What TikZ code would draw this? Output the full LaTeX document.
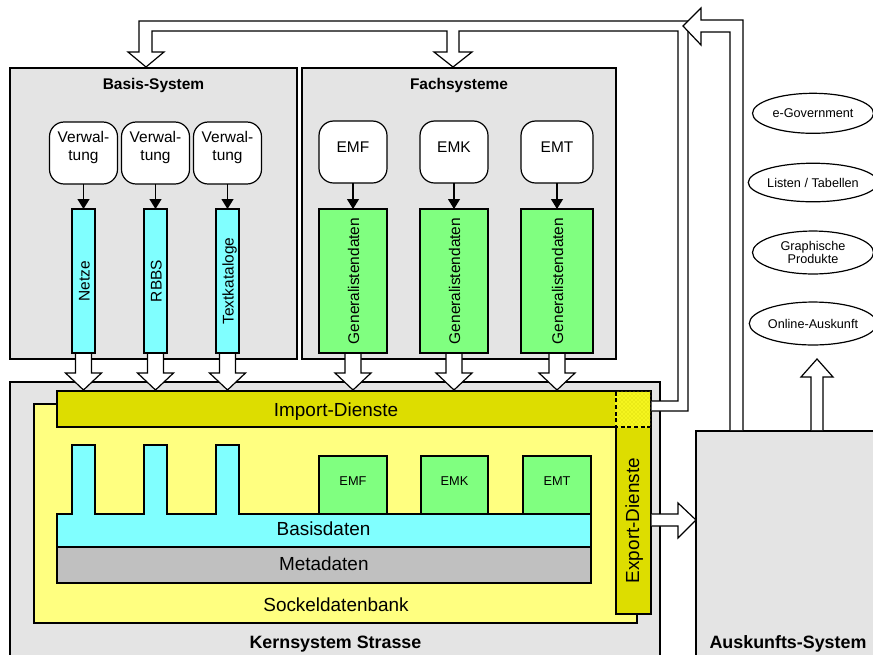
\documentclass[tikz,border=0pt]{standalone}
\usepackage{fontspec}
\setmainfont{Liberation Sans}
\usetikzlibrary{fit,shapes.geometric,arrows.meta,calc,patterns}
\definecolor{panelgray}{RGB}{228,228,228}
\definecolor{basecyan}{RGB}{128,255,255}
\definecolor{datagreen}{RGB}{128,255,128}
\definecolor{socketyellow}{RGB}{255,255,128}
\definecolor{serviceyellow}{RGB}{221,221,0}
\definecolor{metagray}{RGB}{192,192,192}
\definecolor{overlapyellow}{RGB}{245,245,30}
\definecolor{overlapdots}{RGB}{205,205,0}
\begin{document}
\begin{tikzpicture}[x=0.75pt,y=-0.75pt,line width=0.9pt,
  area/.style={draw,inner sep=0pt,outer sep=0pt,fit={#1}},
  srcbox/.style={area={#1},rounded corners=11pt,fill=white,align=center,
    font=\fontsize{11.6}{13.5}\selectfont},
  reg/.style={font=\fontsize{11.6}{13.5}\selectfont,inner sep=0pt},
  large/.style={font=\fontsize{14.2}{17}\selectfont,inner sep=0pt},
  heading/.style={font=\bfseries\fontsize{11.6}{14}\selectfont,inner sep=0pt},
  caption/.style={font=\bfseries\fontsize{13.4}{16}\selectfont,inner sep=0pt},
  smalltext/.style={font=\fontsize{9.6}{11}\selectfont,align=center},
  product/.style={ellipse,draw,fill=white,inner sep=0pt,minimum width=90.75pt,
    font=\fontsize{9.5}{11}\selectfont,align=center},
  flow/.style={-{Triangle[length=7.5pt,width=9pt]}},
  blockarrow/.style={draw,fill=white,line join=miter},
  dashline/.style={line width=1.4pt,dash pattern=on 3pt off 2pt}]
\useasboundingbox (0,0) rectangle (873,654);

% ---------- outer panels ----------
\node[area={(10,68) (297,359)},fill=panelgray] (basis) {};
\node[heading,anchor=base] (basistitle) at (153.5,89) {Basis-System};
\node[area={(302,68) (616,359)},fill=panelgray] (fach) {};
\node[heading,anchor=base] (fachtitle) at (459,89) {Fachsysteme};
\node[area={(10,382) (660,690)},fill=panelgray] (kern) {};
\node[caption,anchor=base] (kerntitle) at (335.5,648) {Kernsystem Strasse};
\node[area={(696,431) (890,690)},fill=panelgray] (ausk) {};
\node[caption,anchor=base] (ausktitle) at (788,648) {Auskunfts-System};

% ---------- Basis-System ----------
\node[srcbox={(49.5,122) (117.5,184)}] (v1) {Verwal-\\tung};
\node[srcbox={(121.5,122) (189.5,184)}] (v2) {Verwal-\\tung};
\node[srcbox={(193.5,122) (261.5,184)}] (v3) {Verwal-\\tung};
\node[area={(72,209) (95,353)},fill=basecyan] (netze) {};
\node[area={(144,209) (167,353)},fill=basecyan] (rbbs) {};
\node[area={(216,209) (239,353)},fill=basecyan] (texte) {};
\node[reg,rotate=90,anchor=base] (netzetext) at ($(netze.center)+(6,0)$) {Netze};
\node[reg,rotate=90,anchor=base] (rbbstext) at ($(rbbs.center)+(6,0)$) {RBBS};
\node[reg,rotate=90,anchor=base] (textetext) at ($(texte.center)+(6,0)$) {Textkataloge};
\draw[flow] (v1) -- (netze);
\draw[flow] (v2) -- (rbbs);
\draw[flow] (v3) -- (texte);

% ---------- Fachsysteme ----------
\node[srcbox={(319,121) (387,183)}] (emf) {EMF};
\node[srcbox={(420,121) (488,183)}] (emk) {EMK};
\node[srcbox={(521,121) (593,183)}] (emt) {EMT};
\node[area={(319,209) (387,353)},fill=datagreen] (gd1) {};
\node[area={(420,209) (488,353)},fill=datagreen] (gd2) {};
\node[area={(521,209) (593,353)},fill=datagreen] (gd3) {};
\node[reg,rotate=90,anchor=base] (gd1text) at ($(gd1.center)+(6,0)$) {Generalistendaten};
\node[reg,rotate=90,anchor=base] (gd2text) at ($(gd2.center)+(6,0)$) {Generalistendaten};
\node[reg,rotate=90,anchor=base] (gd3text) at ($(gd3.center)+(6,0)$) {Generalistendaten};
\draw[flow] (emf) -- (gd1);
\draw[flow] (emk) -- (gd2);
\draw[flow] (emt) -- (gd3);

% ---------- Kernsystem ----------
\node[area={(34,404) (637,623)},fill=socketyellow] (sockel) {};
\node[large,anchor=base] (sockeltext) at (336,611.5) {Sockeldatenbank};
\node[area={(57,391) (651,427)},fill=serviceyellow] (import) {};
\node[large,anchor=base] (importtext) at (336,416) {Import-Dienste};
\node[area={(616,391) (651,614)},fill=serviceyellow] (export) {};
\node[large,rotate=90,anchor=base] (exporttext) at (639,520.5) {Export-Dienste};
% shared corner of import and export services
\fill[overlapyellow] (615.3,391.6) rectangle (650.4,427.7);
\fill[pattern=crosshatch dots,pattern color=overlapdots] (615.3,391.6) rectangle (650.4,427.7);
\draw[dashline] (616,391.8) -- (616,427) -- (650.4,427);

% base data with the three comb teeth
\filldraw[fill=basecyan] (57,514) -- (72,514) -- (72,445) -- (95,445) -- (95,514)
  -- (144,514) -- (144,445) -- (167,445) -- (167,514)
  -- (216,514) -- (216,445) -- (239,445) -- (239,514)
  -- (591,514) -- (591,547) -- (57,547) -- cycle;
\node[large,anchor=base] (basisdaten) at (323.5,535) {Basisdaten};
\node[area={(57,547) (591,583)},fill=metagray] (meta) {};
\node[large,anchor=base] (metatext) at (323.8,570.7) {Metadaten};
\node[area={(319,456) (387,514)},fill=datagreen,smalltext] (kemf) {EMF};
\node[area={(421,456) (488,514)},fill=datagreen,smalltext] (kemk) {EMK};
\node[area={(523,456) (591,514)},fill=datagreen,smalltext] (kemt) {EMT};

% ---------- products ----------
\node[product,minimum height=30pt] (egov) at (813,113.3) {e-Government};
\node[product,minimum height=28.9pt] (listen) at (813,182.5) {Listen / Tabellen};
\node[product,minimum height=32.2pt] (grafik) at (813,252.5) {Graphische\\[-1.5pt]Produkte};
\node[product,minimum height=32.2pt] (online) at (813,323.5) {Online-Auskunft};

% ---------- block arrows into the import services ----------
\newcommand{\intoimport}[1]{%
  \filldraw[blockarrow] ($(#1.south)+(-8,1)$) -- ($(#1.south)+(-8,20)$)
    -- ($(#1.south)+(-18,20)$) -- ($(#1.south)+(0,37)$) -- ($(#1.south)+(18,20)$)
    -- ($(#1.south)+(8,20)$) -- ($(#1.south)+(8,1)$);}
\intoimport{netze}
\intoimport{rbbs}
\intoimport{texte}
\intoimport{gd1}
\intoimport{gd2}
\intoimport{gd3}

% ---------- feedback pipe from the import services to both systems ----------
\filldraw[blockarrow] ($(import.east)+(0.6,-8)$) -- (678,401) -- (678,31)
  -- (459,31) -- (459,52) -- (472,52) -- (453,67) -- (434,52) -- (447,52) -- (447,31)
  -- (152,31) -- (152,52) -- (164,52) -- (146,67) -- (128,52) -- (139,52) -- (139,21)
  -- (688,21) -- (688,411) -- ($(import.east)+(0.6,2)$);

% ---------- pipe from the information system joining the feedback ----------
\filldraw[blockarrow] (730,430) -- (730,32) -- (701,32) -- (701,45) -- (683,26)
  -- (701,8) -- (701,20) -- (743,20) -- (743,430);

% ---------- export arrow ----------
\filldraw[blockarrow] (651.6,514) -- (678,514) -- (678,503) -- (696,520) -- (678,538)
  -- (678,526) -- (651.6,526);

% ---------- arrow up to the products ----------
\filldraw[blockarrow] (811,430) -- (811,377) -- (801,377) -- (817,359) -- (833,377)
  -- (823,377) -- (823,430);
\end{tikzpicture}
\end{document}
